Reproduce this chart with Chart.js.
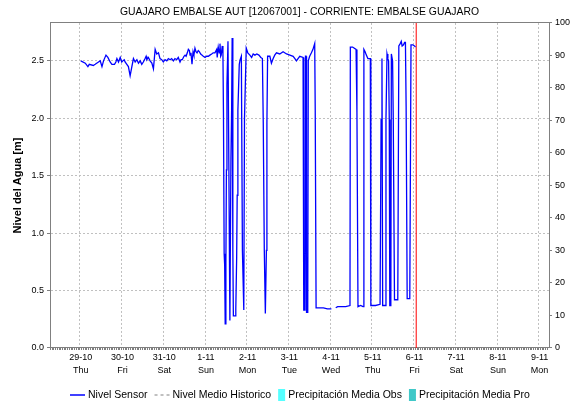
<!DOCTYPE html>
<html>
<head>
<meta charset="utf-8">
<title>GUAJARO EMBALSE AUT</title>
<script src="https://cdn.jsdelivr.net/npm/chart.js@4.4.1/dist/chart.umd.min.js"></script>
<style>
  html, body { margin: 0; padding: 0; background: #fff; }
  #wrap { width: 577px; height: 404px; }
</style>
</head>
<body>
<div id="wrap"><canvas id="nivelChart" width="577" height="404"></canvas></div>
<script>
(function() {
    'use strict';

    // Day ticks (every 24 h from 29-10 00:00)
    const dayLabels = ['29-10', '30-10', '31-10', '1-11', '2-11', '3-11', '4-11', '5-11', '6-11', '7-11', '8-11', '9-11'];
    const weekDays = ['Thu', 'Fri', 'Sat', 'Sun', 'Mon', 'Tue', 'Wed', 'Thu', 'Fri', 'Sat', 'Sun', 'Mon'];

    // Nivel Sensor: hours since 29-10 00:00 and level in metres (null = no reading)
    const sensorHours = [
        0, 2.6, 4.1, 4.9, 7.2, 8.3, 10.2, 11.2, 12.2, 13.1, 14.5, 15.6, 16.9, 17.9, 19.4, 20.2, 20.8, 21.7, 22.7, 23.6,
        24.2, 25.0, 25.5, 26.5, 27.4, 28.4, 29.4, 30.3, 31.3, 32.3, 33.2, 34.2, 35.1, 36.0, 37.0, 37.6, 38.0, 38.9, 39.9, 40.9,
        41.8, 42.8, 43.7, 44.7, 45.6, 46.6, 47.5, 48.5, 49.5, 50.4, 51.4, 52.3, 53.3, 54.2, 55.2, 56.1, 57.1, 57.7, 58.4, 59.4,
        60.0, 60.6, 61.3, 61.9, 62.5, 62.9, 63.4, 64.0, 64.6, 65.1, 65.7, 66.3, 66.9, 67.6, 68.2, 69.0, 69.7, 70.5, 71.5, 72.4,
        73.4, 74.3, 75.3, 76.2, 77.2, 78.2, 78.5, 79.1, 79.7, 80.1, 80.5, 80.8, 81.4, 81.8, 82.1, 82.5, 82.8, 83.1, 83.5, 83.8,
        84.1, 84.7, 85.2, 85.8, 86.4, 86.8, 87.1, 87.5, 87.8, 89.0, 89.2, 89.7, 90.0, 90.4, 91.2, 91.7, 92.4, 93.0, 93.8, 94.2,
        95.2, 96.1, 97.3, 98.3, 99.2, 100.2, 101.3, 102.5, 103.6, 104.5, 105.0, 105.6, 106.2, 106.8, 107.1, 107.5, 108.8, 109.7, 110.7, 111.6,
        112.6, 114.5, 116.4, 118.4, 120.3, 122.2, 123.2, 124.1, 125.0, 126.0, 127.9, 128.3, 129.0, 129.3, 129.6, 129.9, 130.6, 130.9, 131.7, 132.7,
        133.6, 134.6, 134.9, 135.4, 137.3, 139.6, 141.9, 144.2, 145.5, 146.7, 147.8, 150.1, 152.4, 154.9, 155.1, 156.4, 158.4, 158.9, 159.5, 161.0,
        162.4, 162.9, 163.6, 164.3, 165.2, 166.6, 166.9, 169.6, 172.2, 172.8, 173.3, 173.7, 175.1, 175.6, 176.2, 176.7, 177.1, 177.5, 177.8, 178.4,
        178.7, 179.4, 179.8, 180.5, 182.4, 183.0, 183.8, 184.4, 184.9, 185.7, 186.3, 186.8, 187.2, 187.8, 189.3, 190.0, 191.0, 192.0, 192.6
    ];
    const sensorLevels = [
        2.50, 2.48, 2.45, 2.47, 2.46, 2.47, 2.49, 2.50, 2.45, 2.50, 2.55, 2.53, 2.49, 2.47, 2.47, 2.49, 2.52, 2.49, 2.53, 2.49,
        2.50, 2.51, 2.49, 2.47, 2.45, 2.37, 2.45, 2.52, 2.49, 2.51, 2.48, 2.50, 2.47, 2.49, 2.52, 2.54, 2.51, 2.53, 2.50, 2.48,
        2.43, 2.60, 2.56, 2.57, 2.52, 2.51, 2.49, 2.51, 2.50, 2.52, 2.51, 2.52, 2.50, 2.52, 2.51, 2.53, 2.49, 2.51, 2.51, 2.54,
        2.55, 2.54, 2.57, 2.60, 2.59, 2.55, 2.57, 2.47, 2.58, 2.55, 2.61, 2.58, 2.57, 2.59, 2.58, 2.56, 2.55, 2.54, 2.53, 2.54,
        2.54, 2.55, 2.56, 2.57, 2.57, 2.60, 2.53, 2.62, 2.57, 2.65, 2.54, 2.55, 2.63, 2.56, 2.05, 0.82, 0.72, 0.21, 0.74, 1.55,
        2.29, 2.67, 1.60, 0.24, 1.65, 2.07, 2.70, 0.85, 0.28, 0.28, 0.34, 0.79, 1.33, 2.07, 2.47, 2.51, 2.54, 0.85, 0.33, 2.00,
        2.61, 2.57, 2.55, 2.53, 2.56, 2.55, 2.56, 2.55, 2.53, 2.52, 1.96, 0.85, 0.30, 0.85, 1.96, 2.54, 2.54, 2.48, 2.52, 2.55,
        2.57, 2.56, 2.58, 2.56, 2.55, 2.54, 2.52, 2.50, 2.52, 2.54, 2.53, 0.33, 0.33, 2.54, 2.54, 0.31, 0.31, 2.50, 2.54, 2.57,
        2.60, 2.65, 2.07, 0.35, 0.35, 0.35, 0.34, 0.34, null, 0.35, 0.36, 0.36, 0.36, 0.37, 2.62, 2.62, 2.60, 2.05, 0.36, 0.37,
        0.36, 2.60, 2.58, 2.55, 2.52, 2.52, 0.37, 0.37, 0.38, 1.99, 2.52, 0.37, 0.37, 1.99, 2.56, 2.52, 2.50, 1.99, 0.37, 0.37,
        2.56, 2.50, 1.99, 0.42, 0.42, 2.63, 2.65, 2.67, 2.63, 2.64, 2.66, 2.66, 2.10, 0.43, 0.43, 2.64, 2.64, 2.63, 2.62
    ];

    // No readings for these series in the period
    const historicoLevels = [];
    const precipObs = [];
    const precipPro = [];

    // Current time marker (hours since 29-10 00:00)
    const nowHour = 193;

    const X_MIN = -17.2;
    const X_MAX = 268.9;
    const Y_MAX = 2.83;

    const FONT = "'Liberation Sans', Arial, sans-serif";
    const GRID = '#c0c0c0';
    const AXIS = '#808080';

    Chart.defaults.font.family = FONT;
    Chart.defaults.color = '#000';

    const sensorPoints = sensorHours.map((h, i) => ({ x: h, y: sensorLevels[i] }));

    // top edge of the plot box (the axes draw the other three)
    const plotFrame = {
        id: 'plotFrame',
        afterDraw(chart) {
            const { ctx, chartArea } = chart;
            ctx.save();
            ctx.strokeStyle = AXIS;
            ctx.lineWidth = 1;
            ctx.beginPath();
            ctx.moveTo(chartArea.left, Math.floor(chartArea.top) + 0.5);
            ctx.lineTo(chartArea.right, Math.floor(chartArea.top) + 0.5);
            ctx.stroke();
            ctx.restore();
        }
    };

    // legend row under the x axis, centred on the plot
    const seriesLegend = {
        id: 'seriesLegend',
        afterDraw(chart) {
            const { ctx, chartArea } = chart;
            const items = chart.data.datasets.filter(d => d.legendSymbol);
            const y = 395;
            ctx.save();
            ctx.font = '10.5px ' + FONT;
            ctx.textBaseline = 'middle';
            const symW = d => d.legendSymbol === 'line' ? 15 : 7;
            const widths = items.map(d => symW(d) + 3 + ctx.measureText(d.label).width);
            const gap = 7;
            const total = widths.reduce((a, b) => a + b, 0) + gap * (items.length - 1);
            let x = Math.round((chartArea.left + chartArea.right) / 2 - total / 2);
            items.forEach((d, i) => {
                if (d.legendSymbol === 'line') {
                    ctx.strokeStyle = d.borderColor;
                    ctx.lineWidth = d.legendLineWidth || 1.5;
                    ctx.setLineDash(d.borderDash || []);
                    ctx.beginPath();
                    ctx.moveTo(x, y);
                    ctx.lineTo(x + 15, y);
                    ctx.stroke();
                    ctx.setLineDash([]);
                } else {
                    ctx.fillStyle = d.backgroundColor;
                    ctx.fillRect(x, y - 6, 7, 12);
                }
                ctx.fillStyle = '#000';
                ctx.fillText(d.label, x + symW(d) + 3, y);
                x += widths[i] + gap;
            });
            ctx.restore();
        }
    };

    function initChart() {
        const canvas = document.getElementById('nivelChart');
        return new Chart(canvas, {
            type: 'line',
            data: {
                datasets: [
                    {
                        label: 'Nivel Sensor',
                        data: sensorPoints,
                        borderColor: '#0000ff',
                        borderWidth: 1.3,
                        pointRadius: 0,
                        tension: 0,
                        spanGaps: false,
                        yAxisID: 'y',
                        legendSymbol: 'line'
                    },
                    {
                        label: 'Nivel Medio Historico',
                        data: historicoLevels,
                        borderColor: GRID,
                        borderDash: [3, 3],
                        borderWidth: 2,
                        legendLineWidth: 2,
                        pointRadius: 0,
                        yAxisID: 'y',
                        legendSymbol: 'line'
                    },
                    {
                        type: 'bar',
                        label: 'Precipitación Media Obs',
                        data: precipObs,
                        backgroundColor: '#55ffff',
                        yAxisID: 'y2',
                        legendSymbol: 'box'
                    },
                    {
                        type: 'bar',
                        label: 'Precipitación Media Pro',
                        data: precipPro,
                        backgroundColor: '#40c8c8',
                        yAxisID: 'y2',
                        legendSymbol: 'box'
                    },
                    {
                        label: 'Ahora',
                        data: [{ x: nowHour, y: 0 }, { x: nowHour, y: Y_MAX }],
                        borderColor: '#ff0000',
                        borderWidth: 1,
                        pointRadius: 0,
                        yAxisID: 'y'
                    }
                ]
            },
            options: {
                responsive: false,
                animation: false,
                events: [],
                layout: { padding: { left: 0, right: 0, top: 0, bottom: 26 } },
                plugins: {
                    legend: { display: false },
                    tooltip: { enabled: false },
                    title: {
                        display: true,
                        fullSize: false,
                        text: 'GUAJARO EMBALSE AUT [12067001] - CORRIENTE: EMBALSE GUAJARO',
                        color: '#000',
                        font: { size: 10.4, weight: 'normal', lineHeight: 1.4 },
                        padding: { top: 5, bottom: 3.4 }
                    }
                },
                scales: {
                    x: {
                        type: 'linear',
                        position: 'bottom',
                        min: X_MIN,
                        max: X_MAX,
                        afterBuildTicks(scale) {
                            // hourly ticks, labelled once a day
                            const t = [];
                            for (let h = Math.ceil(scale.min); h <= Math.floor(scale.max); h++) t.push({ value: h });
                            scale.ticks = t;
                        },
                        afterFit(scale) { scale.height = 30; },
                        ticks: {
                            autoSkip: false,
                            maxRotation: 0,
                            padding: 1,
                            font: { size: 9, lineHeight: 1.45 },
                            callback(v) {
                                if (v < 0 || v % 24 !== 0) return '';
                                const i = v / 24;
                                return [dayLabels[i], weekDays[i]];
                            }
                        },
                        grid: {
                            color: ctx => (ctx.tick && ctx.tick.value >= 0 && ctx.tick.value % 24 === 0) ? GRID : 'rgba(0,0,0,0)',
                            tickColor: AXIS,
                            tickLength: 2
                        },
                        border: { color: AXIS, dash: [2, 2] }
                    },
                    y: {
                        position: 'left',
                        min: 0,
                        max: Y_MAX,
                        afterFit(scale) { scale.width = 50; },
                        ticks: {
                            stepSize: 0.5,
                            includeBounds: false,
                            padding: 3,
                            font: { size: 9 },
                            callback: v => v.toFixed(1)
                        },
                        grid: { color: GRID, tickColor: AXIS, tickLength: 3 },
                        border: { color: AXIS, dash: [2, 2] },
                        title: {
                            display: true,
                            text: 'Nivel del Agua [m]',
                            font: { size: 11, weight: 'bold' },
                            padding: { top: 11, bottom: 0 }
                        }
                    },
                    y2: {
                        position: 'right',
                        min: 0,
                        max: 100,
                        afterFit(scale) { scale.width = 28; },
                        ticks: { stepSize: 10, padding: 3, font: { size: 9 } },
                        grid: { drawOnChartArea: false, tickColor: AXIS, tickLength: 3 },
                        border: { color: AXIS }
                    }
                }
            },
            plugins: [plotFrame, seriesLegend]
        });
    }

    document.addEventListener('DOMContentLoaded', initChart);
})();
</script>
</body>
</html>
